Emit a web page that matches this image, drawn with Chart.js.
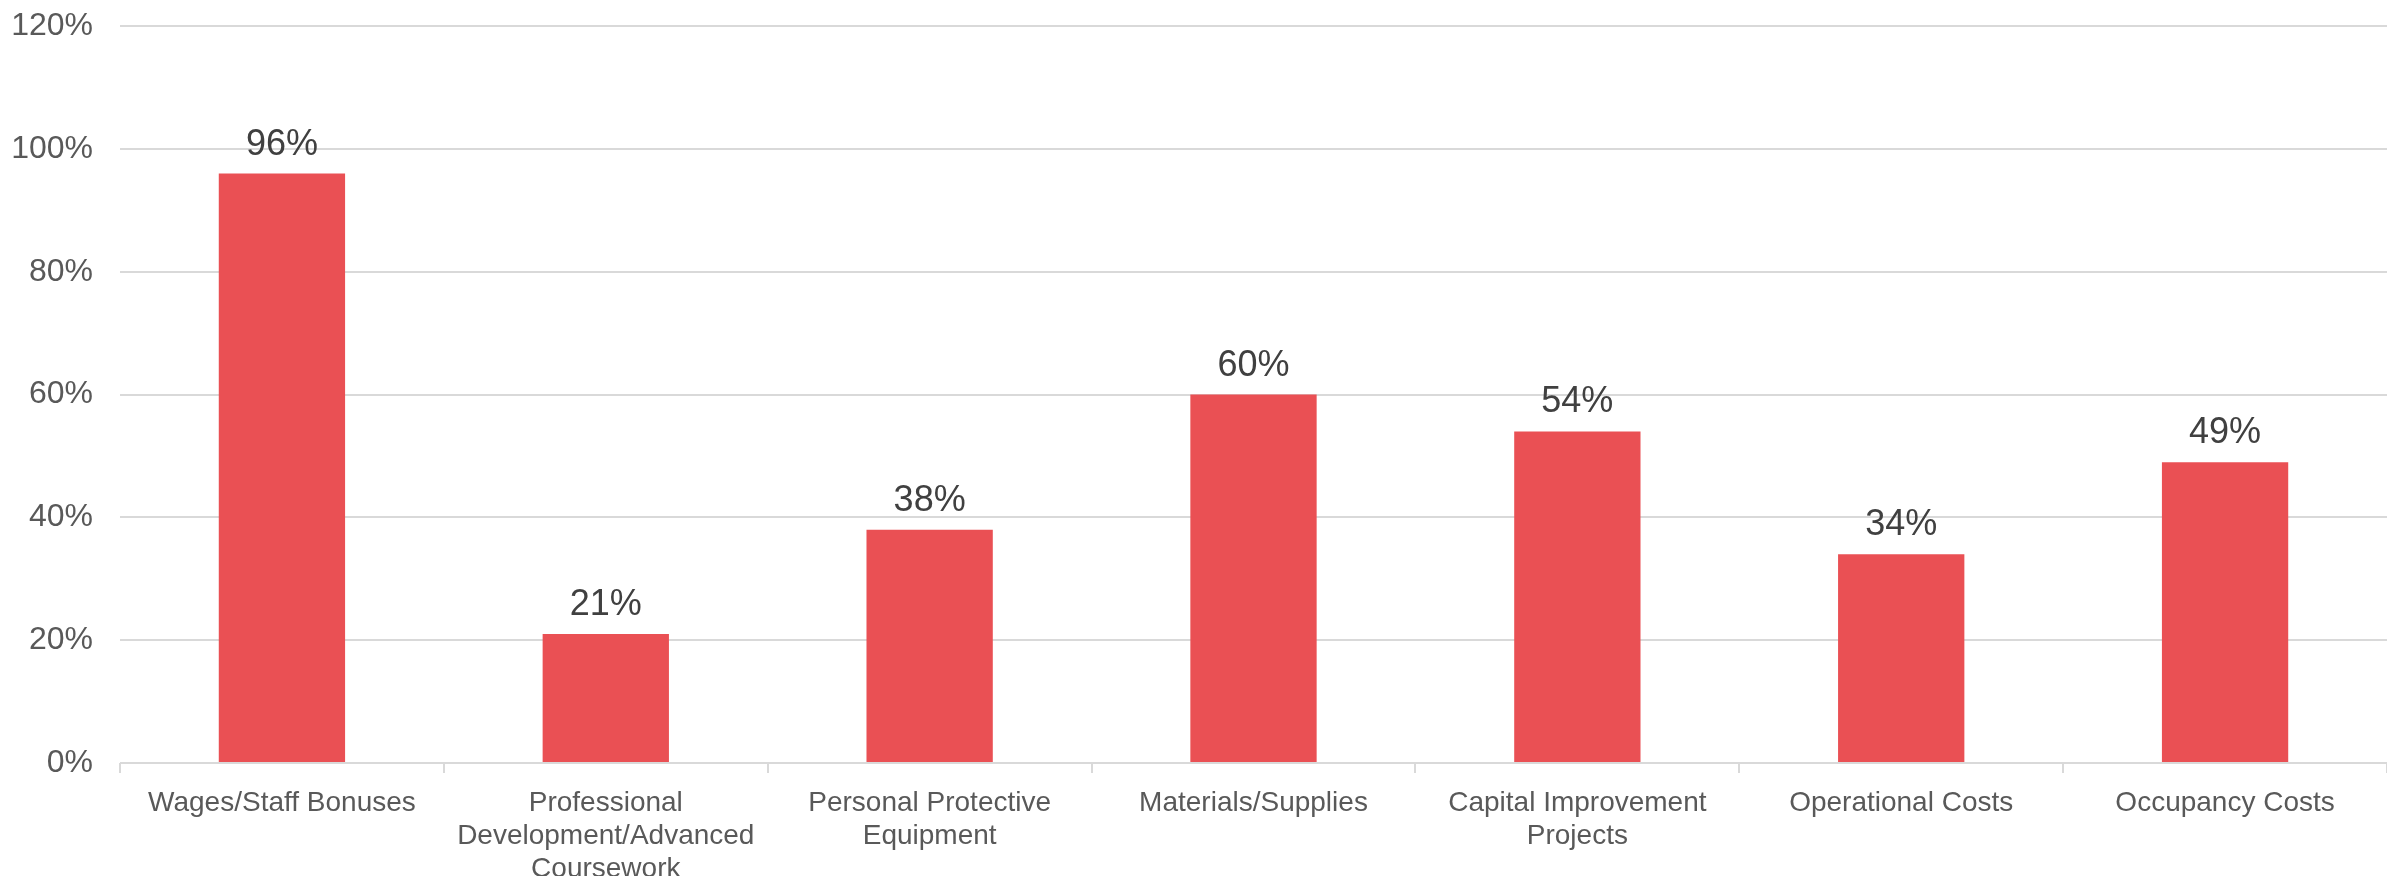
<!DOCTYPE html>
<html>
<head>
<meta charset="utf-8">
<script src="https://cdn.jsdelivr.net/npm/chart.js@4"></script>
<style>
  html, body { margin: 0; padding: 0; background: #fff; }
</style>
</head>
<body>
<canvas id="usoFundos" width="2387" height="876"></canvas>
<script>
// categorias (quebradas em linhas como no original)
var categorias = [
  'Wages/Staff Bonuses',
  ['Professional', 'Development/Advanced', 'Coursework'],
  ['Personal Protective', 'Equipment'],
  'Materials/Supplies',
  ['Capital Improvement', 'Projects'],
  'Operational Costs',
  'Occupancy Costs'
];
var percentuais = [96, 21, 38, 60, 54, 34, 49];
var ticksY = [0, 20, 40, 60, 80, 100, 120];

Chart.defaults.font.family = "'Liberation Sans', Arial, sans-serif";

// rótulos de valor acima das barras
var rotulosValor = {
  id: 'rotulosValor',
  afterDatasetsDraw: function (chart) {
    var ctx = chart.ctx;
    var meta = chart.getDatasetMeta(0);
    ctx.save();
    ctx.font = "36px 'Liberation Sans', Arial, sans-serif";
    ctx.fillStyle = '#404040';
    ctx.textAlign = 'center';
    ctx.textBaseline = 'alphabetic';
    meta.data.forEach(function (barra, i) {
      ctx.fillText(percentuais[i] + '%', barra.x, barra.y - 19);
    });
    ctx.restore();
  }
};

var canvas = document.getElementById('usoFundos');
new Chart(canvas, {
  type: 'bar',
  data: {
    labels: categorias,
    datasets: [{
      label: 'Percent',
      data: percentuais,
      backgroundColor: '#EA5054',
      borderWidth: 0,
      barPercentage: 0.39,
      categoryPercentage: 1.0
    }]
  },
  options: {
    responsive: false,
    animation: false,
    layout: { padding: { top: 1 } },
    plugins: {
      legend: { display: false },
      tooltip: { enabled: false }
    },
    scales: {
      y: {
        min: 0,
        max: 120,
        afterBuildTicks: function (scale) {
          scale.ticks = ticksY.map(function (v) { return { value: v }; });
        },
        afterFit: function (scale) { scale.width = 120; },
        border: { display: false },
        grid: {
          color: '#D9D9D9',
          lineWidth: 2,
          drawTicks: true,
          tickLength: 20,
          tickColor: 'rgba(0,0,0,0)'
        },
        ticks: {
          padding: 7,
          color: '#595959',
          font: { size: 32 },
          callback: function (v) { return v + '%'; }
        }
      },
      x: {
        afterFit: function (scale) { scale.height = 113; },
        border: { display: false },
        grid: {
          offset: true,
          drawOnChartArea: false,
          drawTicks: true,
          tickLength: 10,
          color: '#D9D9D9',
          lineWidth: 2
        },
        ticks: {
          padding: 14,
          color: '#595959',
          maxRotation: 0,
          autoSkip: false,
          font: { size: 28, lineHeight: 1.17 }
        }
      }
    }
  },
  plugins: [rotulosValor]
});
</script>
</body>
</html>
